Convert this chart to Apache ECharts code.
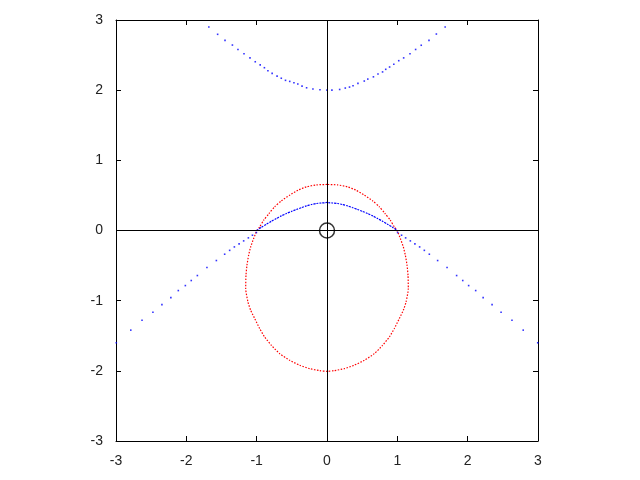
<!DOCTYPE html>
<html>
<head>
<meta charset="utf-8">
<script src="https://cdn.jsdelivr.net/npm/echarts@6/dist/echarts.min.js"></script>
<style>html,body{margin:0;padding:0;background:#fff;}#c{width:640px;height:480px;}</style>
</head>
<body>
<div id="c"></div>
<script>
// Tick values and labels
const xTicks = [-3, -2, -1, 0, 1, 2, 3];
const xTickLabels = ['-3', '-2', '-1', '0', '1', '2', '3'];
const yTicks = [-3, -2, -1, 0, 1, 2, 3];
const yTickLabels = ['-3', '-2', '-1', '0', '1', '2', '3'];

// Blue upper branch (dots)
const blueUpper = [
  [-1.68,2.90],[-1.555,2.796],[-1.45,2.71],[-1.345,2.643],[-1.266,2.58],[-1.18,2.52],
  [-1.095,2.46],[-1.02,2.405],[-0.95,2.36],[-0.89,2.32],[-0.84,2.277],[-0.78,2.24],
  [-0.71,2.20],[-0.65,2.17],[-0.59,2.14],[-0.53,2.125],[-0.47,2.105],[-0.415,2.087],
  [-0.355,2.058],[-0.29,2.034],[-0.2,2.016],[-0.1,2.006],[0,2.0],
  [0.07,2.0],[0.18,2.01],[0.26,2.03],[0.32,2.044],[0.37,2.063],[0.44,2.097],[0.53,2.13],
  [0.58,2.158],[0.66,2.19],[0.725,2.23],[0.79,2.26],[0.835,2.297],[0.89,2.33],[0.95,2.37],
  [1.02,2.42],[1.09,2.46],[1.18,2.52],[1.26,2.58],[1.34,2.64],[1.45,2.71],[1.555,2.80],[1.68,2.90]
];

// Blue lower-left branch (dots)
const blueLowerLeft = [
  [-2.996,-1.60],[-2.79,-1.42],[-2.63,-1.28],[-2.475,-1.166],[-2.347,-1.056],[-2.22,-0.956],
  [-2.114,-0.856],[-2.014,-0.785],[-1.93,-0.713],[-1.843,-0.642],[-1.707,-0.528],[-1.573,-0.428],
  [-1.455,-0.338],[-1.384,-0.283],[-1.317,-0.234],[-1.25,-0.191],[-1.185,-0.148],[-1.118,-0.105],
  [-1.06,-0.067],[-1.004,-0.029]
];

// Blue lower-right branch (dots)
const blueLowerRight = [
  [1.004,-0.029],[1.06,-0.067],[1.118,-0.105],[1.185,-0.148],[1.25,-0.191],[1.317,-0.234],
  [1.384,-0.283],[1.455,-0.338],[1.573,-0.428],[1.707,-0.528],[1.843,-0.642],[1.93,-0.713],
  [2.014,-0.785],[2.114,-0.856],[2.22,-0.956],[2.347,-1.056],[2.475,-1.166],[2.63,-1.28],
  [2.79,-1.42],[2.996,-1.60]
];

// Blue inner arc between the red loop crossings
const blueArc = [
  [-1.0,0],[-0.93,0.047],[-0.86,0.09],[-0.79,0.132],[-0.72,0.171],[-0.65,0.208],[-0.578,0.242],
  [-0.5,0.274],[-0.435,0.30],[-0.36,0.327],[-0.293,0.351],[-0.22,0.37],[-0.15,0.385],[-0.08,0.392],
  [-0.02,0.396],[0,0.402],[0.02,0.396],[0.08,0.392],[0.15,0.385],[0.22,0.37],[0.293,0.351],
  [0.36,0.327],[0.435,0.30],[0.5,0.274],[0.578,0.242],[0.65,0.208],[0.72,0.171],[0.79,0.132],
  [0.86,0.09],[0.93,0.047],[1.0,0]
];

// Red closed loop
const redLoop = [
  [0,0.656],[-0.15,0.65],[-0.293,0.622],[-0.41,0.575],[-0.53,0.504],[-0.65,0.422],
  [-0.745,0.337],[-0.825,0.242],[-0.90,0.147],[-0.957,0.051],[-0.996,0],[-1.043,-0.114],
  [-1.085,-0.234],[-1.114,-0.352],[-1.138,-0.495],[-1.152,-0.64],[-1.156,-0.827],
  [-1.124,-1.018],[-1.085,-1.137],[-1.028,-1.255],[-0.957,-1.398],[-0.886,-1.518],
  [-0.79,-1.636],[-0.673,-1.755],[-0.53,-1.85],[-0.388,-1.92],[-0.246,-1.969],[-0.104,-1.997],
  [0,-2.007],
  [0.104,-1.997],[0.246,-1.969],[0.388,-1.92],[0.53,-1.85],[0.673,-1.755],[0.79,-1.636],
  [0.886,-1.518],[0.957,-1.398],[1.028,-1.255],[1.085,-1.137],[1.124,-1.018],[1.156,-0.827],
  [1.152,-0.64],[1.138,-0.495],[1.114,-0.352],[1.085,-0.234],[1.043,-0.114],[0.996,0],
  [0.957,0.051],[0.90,0.147],[0.825,0.242],[0.745,0.337],[0.65,0.422],[0.53,0.504],
  [0.41,0.575],[0.293,0.622],[0.15,0.65],[0,0.656]
];

// Origin marker
const originMarker = [[0, 0]];

const FONT = 'Liberation Sans, Arial, sans-serif';
const chart = echarts.init(document.getElementById('c'), null, {renderer: 'canvas'});

function xAxisCfg(pos, showLabel) {
  return {
    type: 'value', min: -3, max: 3, interval: 1, position: pos,
    axisLine: {show: true, onZero: false, lineStyle: {color: '#000', width: 1}},
    axisTick: {show: true, inside: true, length: 5, lineStyle: {color: '#000', width: 1}},
    axisLabel: {show: showLabel, color: '#222', fontSize: 14, fontFamily: FONT, margin: 13,
      showMinLabel: true, showMaxLabel: true,
      formatter: v => xTickLabels[xTicks.indexOf(v)]},
    splitLine: {show: false}
  };
}
function yAxisCfg(pos, showLabel) {
  return {
    type: 'value', min: -3, max: 3, interval: 1, position: pos,
    axisLine: {show: true, onZero: false, lineStyle: {color: '#000', width: 1}},
    axisTick: {show: true, inside: true, length: 5, lineStyle: {color: '#000', width: 1}},
    axisLabel: {show: showLabel, color: '#222', fontSize: 14, fontFamily: FONT, margin: 13,
      showMinLabel: true, showMaxLabel: true,
      formatter: v => yTickLabels[yTicks.indexOf(v)]},
    splitLine: {show: false}
  };
}

const dotSeries = (data) => ({
  type: 'scatter', data: data, xAxisIndex: 0, yAxisIndex: 0,
  symbol: 'rect', symbolSize: 1.6, itemStyle: {color: '#0000ff'}, silent: true, z: 3
});

chart.setOption({
  animation: false,
  backgroundColor: '#fff',
  grid: {left: 116, right: 102, top: 20, bottom: 39, containLabel: false},
  xAxis: [xAxisCfg('bottom', true), xAxisCfg('top', false)],
  yAxis: [yAxisCfg('left', true), yAxisCfg('right', false)],
  series: [
    {
      type: 'line', data: redLoop, xAxisIndex: 0, yAxisIndex: 0,
      showSymbol: false, smooth: 0.2,
      lineStyle: {color: '#ff0000', width: 1.2, type: [1.5, 1.5]},
      silent: true, z: 3,
      markLine: {
        silent: true, symbol: 'none', animation: false,
        label: {show: false},
        lineStyle: {color: '#000', type: 'solid', width: 1},
        data: [{xAxis: 0}, {yAxis: 0}]
      }
    },
    {
      type: 'line', data: blueArc, xAxisIndex: 0, yAxisIndex: 0,
      showSymbol: false, smooth: 0.2,
      lineStyle: {color: '#0000ff', width: 1.2, type: [2, 1]},
      silent: true, z: 3
    },
    dotSeries(blueUpper),
    dotSeries(blueLowerLeft),
    dotSeries(blueLowerRight),
    {
      type: 'scatter', data: originMarker, xAxisIndex: 0, yAxisIndex: 0,
      symbol: 'circle', symbolSize: 15,
      itemStyle: {color: 'rgba(0,0,0,0)', borderColor: '#000', borderWidth: 1.5},
      silent: true, z: 4
    }
  ]
});
</script>
</body>
</html>
